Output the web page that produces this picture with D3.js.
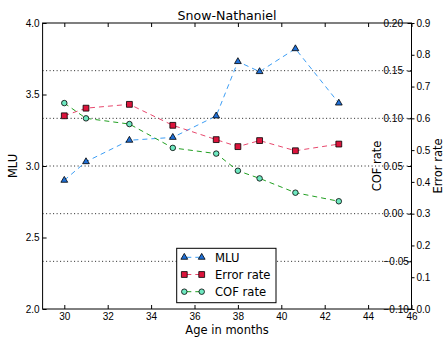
<!DOCTYPE html>
<html>
<head>
<meta charset="utf-8">
<script src="https://cdn.jsdelivr.net/npm/d3@7"></script>
<style>
  body { margin: 0; background: #fff; }
  svg { font-family: "DejaVu Sans", sans-serif; }
</style>
</head>
<body>
<svg id="chart" width="444" height="342"></svg>
<script>
// data
const ages = [30, 31, 33, 35, 37, 38, 39, 40.65, 42.65]
const mlu = [2.90, 3.03, 3.18, 3.20, 3.35, 3.73, 3.66, 3.82, 3.44]
const errorRate = [0.608, 0.632, 0.644, 0.578, 0.533, 0.511, 0.530, 0.498, 0.519]
const cofRate = [0.116, 0.100, 0.094, 0.069, 0.063, 0.045, 0.037, 0.022, 0.013]
const xTicks = [30, 32, 34, 36, 38, 40, 42, 44, 46]
const mluTicks = [2.0, 2.5, 3.0, 3.5, 4.0]
const cofTicks = [-0.10, -0.05, 0.00, 0.05, 0.10, 0.15, 0.20]
const errTicks = [0, 0.1, 0.2, 0.3, 0.4, 0.5, 0.6, 0.7, 0.8, 0.9]

const L = 42.6, R = 411.5, T = 23, B = 309
const svg = d3.select("#chart")

let x = d3.scaleLinear([29, 46], [L, R])
let yM = d3.scaleLinear([2, 4], [B, T])
let yC = d3.scaleLinear([-0.1, 0.2], [B, T])
let yE = d3.scaleLinear([0, 0.9], [B, T])

const minus = s => s.replace("-", "\u2212")

// dotted grid on the COF ticks
svg.append("g")
  .selectAll("line")
  .data(cofTicks.slice(1, -1))
  .join("line")
  .attr("x1", L).attr("x2", R)
  .attr("y1", d => yC(d)).attr("y2", d => yC(d))
  .attr("stroke", "#222").attr("stroke-width", 1)
  .attr("stroke-dasharray", "1,2.5")

function style(g, size) {
  g.select(".domain").remove()
  g.selectAll("text").attr("font-size", size).attr("fill", "#000")
  g.selectAll("line").attr("stroke", "#000")
}

// bottom + top
svg.append("g").attr("transform", `translate(0,${B})`)
  .call(d3.axisBottom(x).tickValues(xTicks).tickSizeInner(-4).tickSizeOuter(0).tickPadding(4))
  .call(g => style(g, 10))
svg.append("g").attr("transform", `translate(0,${T})`)
  .call(d3.axisTop(x).tickValues(xTicks).tickSizeInner(-4).tickSizeOuter(0).tickFormat(""))
  .call(g => style(g, 10))

// left MLU
svg.append("g").attr("transform", `translate(${L},0)`)
  .call(d3.axisLeft(yM).tickValues(mluTicks).tickSizeInner(-4).tickSizeOuter(0).tickPadding(3)
    .tickFormat(d3.format(".1f")))
  .call(g => style(g, 10))

// COF axis, labels sit inside the frame
svg.append("g").attr("transform", `translate(${R},0)`)
  .call(d3.axisRight(yC).tickValues(cofTicks).tickSizeInner(-4).tickSizeOuter(0).tickPadding(-28)
    .tickFormat(d => minus(d3.format(".2f")(d))))
  .call(g => style(g, 10))

// Error axis
svg.append("g").attr("transform", `translate(${R},0)`)
  .call(d3.axisRight(yE).tickValues(errTicks).tickSizeInner(3).tickSizeOuter(0).tickPadding(2)
    .tickFormat(d3.format(".1f")))
  .call(g => style(g, 10))

// frame
svg.append("rect")
  .attr("x", L).attr("y", T).attr("width", R - L).attr("height", B - T)
  .attr("fill", "none").attr("stroke", "#000").attr("stroke-width", 1)

// series
const series = [
  {name: "MLU", vals: mlu, y: yM, line: "#3d9ef5", fill: "#1f6fd6", sym: d3.symbolTriangle, size: 20},
  {name: "Error rate", vals: errorRate, y: yE, line: "#e8496e", fill: "#dc143c", sym: d3.symbolSquare, size: 34},
  {name: "COF rate", vals: cofRate, y: yC, line: "#22a022", fill: "#6ee8c0", sym: d3.symbolCircle, size: 24}
]

series.forEach(s => {
  const pts = ages.map((a, i) => [x(a), s.y(s.vals[i])])
  svg.append("path")
    .attr("d", d3.line()(pts))
    .attr("fill", "none").attr("stroke", s.line).attr("stroke-width", 1)
    .attr("stroke-dasharray", "5,4")
  svg.append("g").selectAll("path")
    .data(pts)
    .join("path")
    .attr("transform", d => `translate(${d[0]},${d[1]})`)
    .attr("d", d3.symbol(s.sym, s.size))
    .attr("fill", s.fill).attr("stroke", "#000").attr("stroke-width", 0.8)
})

// legend
const lg = svg.append("g")
lg.append("rect")
  .attr("x", 176.7).attr("y", 248.3).attr("width", 99.3).attr("height", 54.4)
  .attr("fill", "#fff").attr("stroke", "#000")
series.forEach((s, i) => {
  const yy = 257.3 + i * 17.2
  lg.append("line").attr("x1", 184.3).attr("x2", 201.7).attr("y1", yy).attr("y2", yy)
    .attr("stroke", s.line).attr("stroke-dasharray", "5,4").attr("stroke-dashoffset", -2)
  ;[184.3, 201.7].forEach(px => {
    lg.append("path")
      .attr("transform", `translate(${px},${yy})`)
      .attr("d", d3.symbol(s.sym, s.size))
      .attr("fill", s.fill).attr("stroke", "#000").attr("stroke-width", 0.8)
  })
  lg.append("text").attr("x", 215).attr("y", yy + 4.3)
    .attr("font-size", 11.6).text(s.name)
})

// titles
svg.append("text").attr("x", (L + R) / 2).attr("y", 20)
  .attr("text-anchor", "middle").attr("font-size", 12.6).text("Snow-Nathaniel")
svg.append("text").attr("x", (L + R) / 2).attr("y", 334)
  .attr("text-anchor", "middle").attr("font-size", 11.5).text("Age in months")
svg.append("text").attr("transform", `translate(17,${(T + B) / 2}) rotate(-90)`)
  .attr("text-anchor", "middle").attr("font-size", 11.5).text("MLU")
svg.append("text").attr("transform", `translate(381,${(T + B) / 2}) rotate(-90)`)
  .attr("text-anchor", "middle").attr("font-size", 11.5).text("COF rate")
svg.append("text").attr("transform", `translate(442,${(T + B) / 2}) rotate(-90)`)
  .attr("text-anchor", "middle").attr("font-size", 11.5).text("Error rate")
</script>
</body>
</html>
